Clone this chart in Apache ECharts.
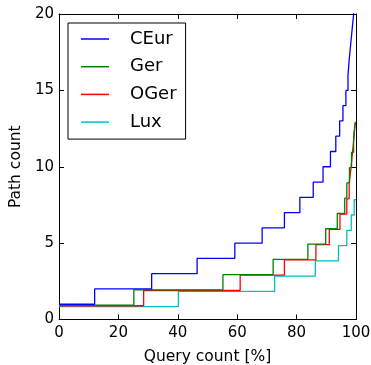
<!DOCTYPE html>
<html>
<head>
<meta charset="utf-8">
<script src="https://cdn.jsdelivr.net/npm/echarts@6/dist/echarts.min.js"></script>
<style>
  html, body { margin: 0; padding: 0; background: #fff; }
  #chart { width: 371px; height: 365px; }
</style>
</head>
<body>
<div id="chart"></div>
<script>
  // step positions (query %) and path counts
  const ceurX = [0, 12, 31.2, 46.5, 59.2, 68.4, 75.9, 81.1, 85.6, 88.9, 91.4, 93.2, 94.5, 95.6, 96.6, 97.3, 97.7, 98.2, 98.7, 99.2, 99.6, 100];
  const ceurY = [1, 2, 3, 4, 5, 6, 7, 8, 9, 10, 11, 12, 13, 14, 15, 16, 17, 18, 19, 20, 22, 22];
  const gerX = [0, 25.2, 55.2, 72.1, 83.8, 89.8, 93.7, 96.2, 96.9, 97.8, 98.5, 99.2, 99.7, 100];
  const gerY = [0.94, 1.94, 2.94, 3.94, 4.94, 5.94, 6.94, 7.94, 8.94, 9.94, 10.94, 11.94, 12.9, 12.9];
  const ogerX = [0, 28.5, 61.0, 75.9, 86.5, 91.0, 94.6, 96.9, 97.7, 98.3, 98.8, 99.3, 99.7, 100];
  const ogerY = [0.9, 1.9, 2.9, 3.9, 4.9, 5.9, 6.9, 7.9, 8.9, 9.9, 10.9, 11.9, 12.8, 12.8];
  const luxX = [0, 40.2, 72.6, 86.3, 94.1, 96.9, 98.4, 99.4, 100];
  const luxY = [0.84, 1.84, 2.84, 3.84, 4.84, 5.84, 6.84, 7.84, 7.84];

  const names = ['CEur', 'Ger', 'OGer', 'Lux'];
  const colors = ['#0000ff', '#008000', '#ff0000', '#00bfbf'];
  const xTicks = [0, 20, 40, 60, 80, 100];
  const yTicks = [0, 5, 10, 15, 20];

  const zip = (xs, ys) => xs.map((x, i) => [x, ys[i]]);
  const seriesData = [zip(ceurX, ceurY), zip(gerX, gerY), zip(ogerX, ogerY), zip(luxX, luxY)];

  const font = 'DejaVu Sans';
  const chart = echarts.init(document.getElementById('chart'));

  const tickStyle = { inside: true, length: 5, lineStyle: { color: '#000', width: 1 } };

  chart.setOption({
    animation: false,
    grid: { left: 59, right: 15, top: 14, bottom: 45.5, outerBoundsMode: 'none', containLabel: false },
    legend: {
      orient: 'vertical',
      left: 68,
      top: 23,
      data: names,
      icon: 'rect',
      itemWidth: 28,
      itemHeight: 1.5,
      itemGap: 9.7,
      padding: [7, 9, 8, 13],
      borderColor: '#000',
      borderWidth: 1,
      backgroundColor: '#fff',
      textStyle: { fontFamily: font, fontSize: 18, lineHeight: 18, color: '#000', padding: [0, 0, 0, 16] }
    },
    xAxis: [
      {
        type: 'value', min: 0, max: 100, interval: 20,
        name: 'Query count [%]', nameLocation: 'middle', nameGap: 29,
        nameTextStyle: { fontFamily: font, fontSize: 15.5, color: '#000' },
        axisLine: { lineStyle: { color: '#000', width: 1 } },
        axisTick: tickStyle,
        axisLabel: { fontFamily: font, fontSize: 15, color: '#000', margin: 6,
          formatter: v => xTicks.includes(v) ? String(v) : '' },
        splitLine: { show: false }
      },
      {
        type: 'value', min: 0, max: 100, interval: 20, position: 'top',
        axisLine: { onZero: false, lineStyle: { color: '#000', width: 1 } },
        axisTick: tickStyle, axisLabel: { show: false }, splitLine: { show: false }
      }
    ],
    yAxis: [
      {
        type: 'value', min: 0, max: 20, interval: 5,
        name: 'Path count', nameLocation: 'middle', nameGap: 27,
        nameTextStyle: { fontFamily: font, fontSize: 15.5, color: '#000' },
        axisLine: { show: true, lineStyle: { color: '#000', width: 1 } },
        axisTick: tickStyle,
        axisLabel: { fontFamily: font, fontSize: 15, color: '#000', margin: 5,
          formatter: v => yTicks.includes(v) ? String(v) : '' },
        splitLine: { show: false }
      },
      {
        type: 'value', min: 0, max: 20, interval: 5, position: 'right',
        axisLine: { show: true, onZero: false, lineStyle: { color: '#000', width: 1 } },
        axisTick: tickStyle, axisLabel: { show: false }, splitLine: { show: false }
      }
    ],
    series: names.map((n, i) => ({
      name: n,
      type: 'line',
      step: 'end',
      data: seriesData[i],
      symbol: 'none',
      clip: true,
      color: colors[i],
      lineStyle: { color: colors[i], width: 1.3 },
      z: 10 - i
    }))
  });
</script>
</body>
</html>
